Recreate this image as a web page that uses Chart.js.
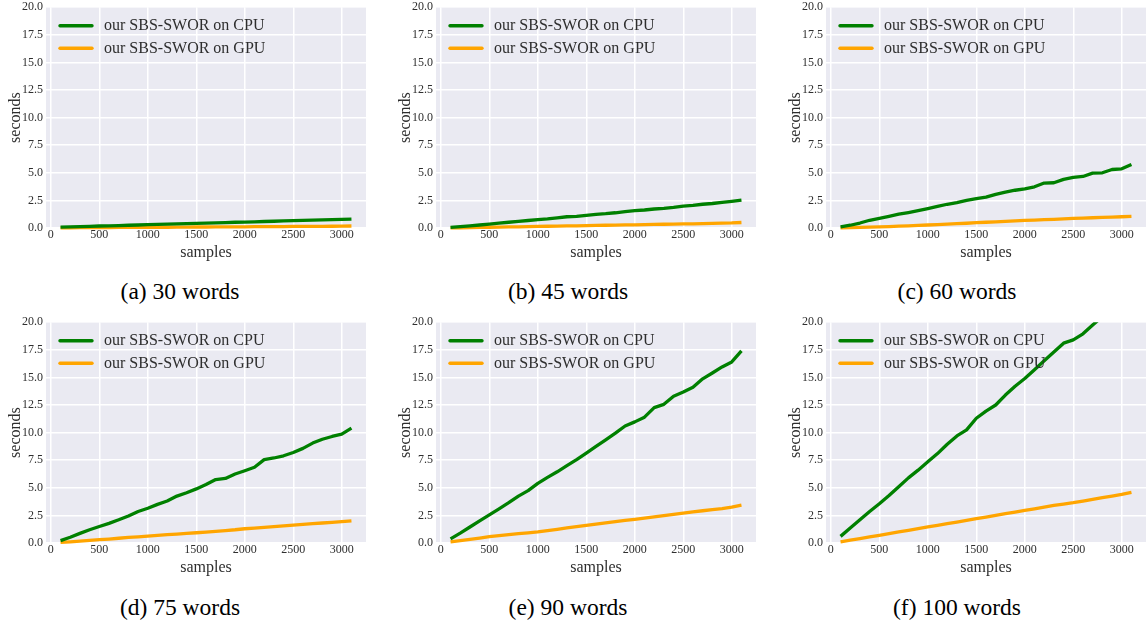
<!DOCTYPE html>
<html><head><meta charset="utf-8">
<script src="https://cdn.jsdelivr.net/npm/chart.js@4.4.1/dist/chart.umd.min.js"></script>
<style>
html,body{margin:0;padding:0;background:#fff;width:1146px;height:628px;overflow:hidden;position:relative;}
.sub{position:absolute;}
.cap{position:absolute;font-family:"Liberation Serif","Times New Roman",serif;font-size:23.5px;line-height:1;color:#000;white-space:nowrap;transform:translateX(-50%);}
</style></head><body>
<script>
// ---------- data ----------
const SAMPLES = [100,200,300,400,500,600,700,800,900,1000,1100,1200,1300,1400,1500,1600,1700,1800,1900,2000,2100,2200,2300,2400,2500,2600,2700,2800,2900,3000,3100];
const SERIES_LABELS = ['our SBS-SWOR on CPU','our SBS-SWOR on GPU'];
const CAPTIONS = ['(a) 30 words','(b) 45 words','(c) 60 words','(d) 75 words','(e) 90 words','(f) 100 words'];
const X_TICKS = [0,500,1000,1500,2000,2500,3000];
const Y_TICKS = [0,2.5,5,7.5,10,12.5,15,17.5,20];

const CPU_30 = [0.08,0.10,0.13,0.15,0.18,0.20,0.22,0.25,0.27,0.30,0.32,0.35,0.37,0.39,0.42,0.44,0.47,0.49,0.52,0.54,0.56,0.59,0.61,0.64,0.66,0.69,0.71,0.73,0.76,0.78,0.81];
const GPU_30 = [0.02,0.02,0.03,0.03,0.04,0.04,0.05,0.05,0.06,0.06,0.07,0.07,0.08,0.08,0.09,0.09,0.10,0.10,0.11,0.11,0.12,0.12,0.13,0.13,0.14,0.14,0.15,0.15,0.16,0.17,0.18];
const CPU_45 = [0.05,0.12,0.20,0.27,0.35,0.44,0.52,0.60,0.68,0.76,0.83,0.92,1.02,1.05,1.15,1.24,1.30,1.38,1.48,1.57,1.63,1.72,1.78,1.86,1.98,2.05,2.15,2.22,2.33,2.42,2.52];
const GPU_45 = [0.01,0.02,0.04,0.05,0.07,0.08,0.10,0.11,0.13,0.14,0.16,0.17,0.19,0.20,0.22,0.23,0.25,0.26,0.28,0.29,0.31,0.32,0.34,0.35,0.37,0.38,0.40,0.42,0.44,0.46,0.50];
const CPU_60 = [0.10,0.25,0.45,0.70,0.87,1.05,1.25,1.40,1.57,1.75,1.95,2.15,2.30,2.50,2.65,2.80,3.05,3.25,3.42,3.55,3.73,4.07,4.10,4.40,4.58,4.67,4.97,5.00,5.30,5.36,5.75];
const GPU_60 = [0.02,0.04,0.06,0.08,0.10,0.13,0.17,0.20,0.23,0.27,0.31,0.35,0.39,0.43,0.48,0.52,0.56,0.60,0.64,0.69,0.72,0.76,0.79,0.83,0.87,0.90,0.93,0.96,0.99,1.02,1.05];
const CPU_75 = [0.22,0.52,0.87,1.20,1.50,1.78,2.10,2.45,2.85,3.15,3.50,3.80,4.25,4.55,4.90,5.30,5.75,5.85,6.25,6.55,6.86,7.55,7.70,7.90,8.20,8.57,9.05,9.40,9.65,9.86,10.40];
const GPU_75 = [0.05,0.11,0.17,0.24,0.30,0.36,0.43,0.50,0.56,0.63,0.69,0.75,0.81,0.87,0.93,0.99,1.06,1.13,1.20,1.29,1.35,1.41,1.48,1.55,1.62,1.68,1.75,1.81,1.87,1.93,2.00];
const CPU_90 = [0.38,0.90,1.45,2.00,2.55,3.10,3.65,4.25,4.75,5.40,5.95,6.45,7.00,7.55,8.15,8.75,9.35,9.95,10.60,10.97,11.40,12.26,12.56,13.30,13.67,14.10,14.87,15.40,15.95,16.40,17.40];
const GPU_90 = [0.10,0.22,0.33,0.45,0.57,0.66,0.75,0.84,0.92,1.00,1.12,1.24,1.36,1.48,1.60,1.71,1.82,1.93,2.04,2.15,2.26,2.37,2.48,2.59,2.70,2.82,2.92,3.02,3.12,3.25,3.42];
const CPU_100 = [0.60,1.35,2.10,2.85,3.55,4.30,5.10,5.90,6.60,7.35,8.10,8.95,9.70,10.25,11.30,11.95,12.50,13.40,14.20,14.90,15.70,16.50,17.30,18.10,18.40,18.95,19.75,20.50,21.20,21.90,22.60];
const GPU_100 = [0.10,0.25,0.40,0.55,0.70,0.85,1.00,1.15,1.30,1.45,1.60,1.75,1.90,2.05,2.20,2.35,2.50,2.65,2.80,2.95,3.10,3.25,3.40,3.52,3.65,3.80,3.95,4.10,4.25,4.40,4.58];

const CPU_SERIES = [CPU_30, CPU_45, CPU_60, CPU_75, CPU_90, CPU_100];
const GPU_SERIES = [GPU_30, GPU_45, GPU_60, GPU_75, GPU_90, GPU_100];

// ---------- layout & style ----------
const LAYOUT = {
  plotLefts: [46, 436, 826], plotTops: [6, 321], plotW: 320, plotH: 222,
  yAxisW: 46, padTop: 9, xAxisH: 36,
  capCenters: [180, 568, 957], capTops: [280, 596]
};
const STYLE = {
  font: '"Liberation Serif","Times New Roman",serif',
  text: '#2e2e2e', bg: '#EAEAF2', grid: '#FFFFFF',
  colors: ['#008000', '#FFA500']
};

Chart.defaults.font.family = STYLE.font;

const plotBg = {
  id: 'plotBg',
  beforeDraw(chart) {
    const {ctx, chartArea: a} = chart;
    ctx.save(); ctx.fillStyle = STYLE.bg;
    ctx.fillRect(a.left, a.top, a.right - a.left, a.bottom - a.top);
    ctx.restore();
  }
};
const insideLegend = {
  id: 'insideLegend',
  afterDatasetsDraw(chart) {
    const {ctx, chartArea: {left, top}} = chart;
    ctx.save();
    chart.data.datasets.forEach((ds, i) => {
      const y = top + 18.5 + i * 22.5;
      ctx.strokeStyle = ds.borderColor; ctx.lineWidth = 3.4; ctx.lineCap = 'round';
      ctx.beginPath(); ctx.moveTo(left + 14, y); ctx.lineTo(left + 46, y); ctx.stroke();
      ctx.fillStyle = STYLE.text; ctx.font = '16px ' + STYLE.font;
      ctx.textBaseline = 'middle'; ctx.textAlign = 'left';
      ctx.fillText(ds.label, left + 58, y + 0.5);
    });
    ctx.restore();
  }
};

CAPTIONS.forEach((cap, k) => {
  const col = k % 3, row = Math.floor(k / 3);
  const div = document.createElement('div');
  div.className = 'sub';
  const left = LAYOUT.plotLefts[col] - LAYOUT.yAxisW;
  const top = LAYOUT.plotTops[row] - LAYOUT.padTop;
  const w = LAYOUT.yAxisW + LAYOUT.plotW;
  const h = LAYOUT.padTop + LAYOUT.plotH + LAYOUT.xAxisH;
  div.style.left = left + 'px'; div.style.top = top + 'px';
  div.style.width = w + 'px'; div.style.height = h + 'px';
  const canvas = document.createElement('canvas');
  canvas.width = w; canvas.height = h;
  div.appendChild(canvas);
  document.body.appendChild(div);

  const c = document.createElement('div');
  c.className = 'cap'; c.textContent = cap;
  c.style.left = LAYOUT.capCenters[col] + 'px'; c.style.top = LAYOUT.capTops[row] + 'px';
  document.body.appendChild(c);

  const series = [CPU_SERIES[k], GPU_SERIES[k]];
  new Chart(canvas, {
    type: 'line',
    data: {
      datasets: series.map((vals, i) => ({
        label: SERIES_LABELS[i],
        data: SAMPLES.map((x, j) => ({x: x, y: vals[j]})),
        borderColor: STYLE.colors[i], backgroundColor: STYLE.colors[i],
        borderWidth: 3.3, pointRadius: 0, tension: 0, fill: false,
        borderJoinStyle: 'round', borderCapStyle: 'butt',
        clip: {left: 5, right: 5, top: 0, bottom: 3}
      }))
    },
    options: {
      responsive: false, animation: false, devicePixelRatio: 1,
      layout: {padding: {top: LAYOUT.padTop, left: 0, right: 0, bottom: 0}},
      plugins: {legend: {display: false}, tooltip: {enabled: false}, title: {display: false}},
      scales: {
        x: {
          type: 'linear', min: -50, max: 3250,
          afterBuildTicks: s => { s.ticks = X_TICKS.map(v => ({value: v})); },
          afterFit: s => { s.height = LAYOUT.xAxisH; },
          ticks: {callback: v => String(v), font: {size: 12}, color: STYLE.text, padding: 0, maxRotation: 0, autoSkip: false},
          grid: {color: STYLE.grid, lineWidth: 1.5, drawTicks: false},
          border: {display: false},
          title: {display: true, text: 'samples', font: {size: 16}, color: STYLE.text, padding: {top: 0, bottom: 2}}
        },
        y: {
          type: 'linear', min: 0, max: 20,
          afterBuildTicks: s => { s.ticks = Y_TICKS.map(v => ({value: v})); },
          afterFit: s => { s.width = LAYOUT.yAxisW; },
          ticks: {callback: v => Number(v).toFixed(1), font: {size: 12}, color: STYLE.text, padding: 3, autoSkip: false},
          grid: {color: STYLE.grid, lineWidth: 1.5, drawTicks: false},
          border: {display: false},
          title: {display: true, text: 'seconds', font: {size: 16}, color: STYLE.text, padding: {top: 6, bottom: 0}}
        }
      }
    },
    plugins: [plotBg, insideLegend]
  });
});
</script>
</body></html>
